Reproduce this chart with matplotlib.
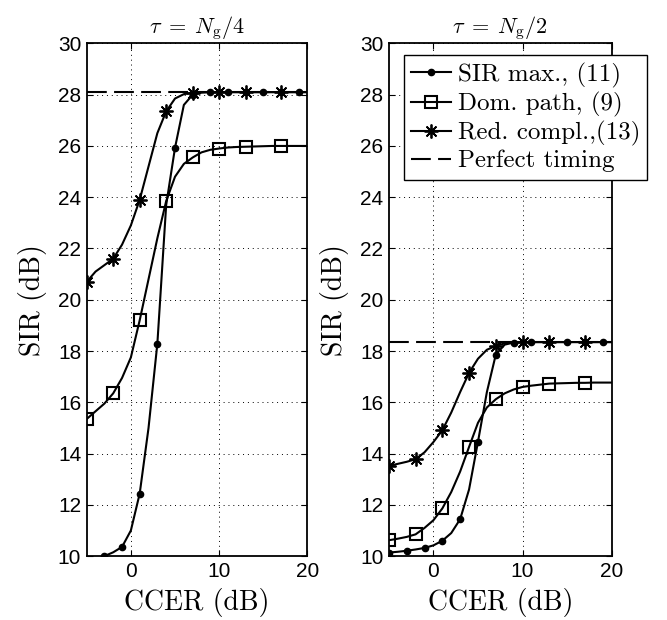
import matplotlib
matplotlib.use('Agg')
import matplotlib.pyplot as plt

plt.rcParams['mathtext.fontset'] = 'cm'
plt.rcParams['font.family'] = ['Liberation Sans', 'DejaVu Sans']

# CCER grid (dB) shared by all curves
ccer = list(range(-5, 21))

# marker positions (dB)
dot_marks = [-5, -3, -1, 1, 3, 5, 7, 9, 11, 13, 15, 17, 19]
sq_marks = [-5, -2, 1, 4, 7, 10, 13, 17]
star_marks = [-5, -2, 1, 4, 7, 10, 13, 17]

# tau = Ng/4
sirmax_a = [9.7, 9.9, 10.0, 10.15, 10.36, 11.0, 12.44, 15.0, 18.29, 23.7, 25.93, 27.6, 28.0,
            28.08, 28.1, 28.1, 28.1, 28.1, 28.1, 28.1, 28.1, 28.1, 28.1, 28.1, 28.1, 28.1]
dompath_a = [15.35, 15.65, 15.95, 16.35, 16.95, 17.75, 19.2, 20.8, 22.4, 23.85, 24.8, 25.3, 25.55,
             25.75, 25.85, 25.9, 25.94, 25.96, 25.97, 25.98, 25.99, 26.0, 26.0, 26.0, 26.0, 26.0]
redcomp_a = [20.7, 21.1, 21.35, 21.6, 22.15, 22.9, 23.9, 25.2, 26.5, 27.35, 27.85, 28.02, 28.08,
             28.1, 28.1, 28.1, 28.1, 28.1, 28.1, 28.1, 28.1, 28.1, 28.1, 28.1, 28.1, 28.1]
perfect_a = 28.1

# tau = Ng/2
sirmax_b = [10.14, 10.17, 10.21, 10.26, 10.32, 10.42, 10.6, 10.9, 11.44, 12.6, 14.46, 16.4, 17.86,
            18.25, 18.33, 18.35, 18.35, 18.35, 18.35, 18.35, 18.35, 18.35, 18.35, 18.35, 18.35, 18.35]
dompath_b = [10.62, 10.68, 10.75, 10.85, 11.1, 11.4, 11.86, 12.5, 13.3, 14.26, 15.2, 15.8, 16.12,
             16.35, 16.5, 16.6, 16.65, 16.69, 16.73, 16.74, 16.75, 16.76, 16.76, 16.77, 16.77, 16.77]
redcomp_b = [13.52, 13.6, 13.68, 13.78, 14.05, 14.45, 14.91, 15.6, 16.4, 17.15, 17.7, 18.05, 18.2,
             18.3, 18.33, 18.35, 18.35, 18.35, 18.35, 18.35, 18.35, 18.35, 18.35, 18.35, 18.35, 18.35]
perfect_b = 18.35

titles = [r'$\tau\;=\;N_{\mathrm{g}}/4$', r'$\tau\;=\;N_{\mathrm{g}}/2$']
labels = ['SIR max., (11)', 'Dom. path, (9)', 'Red. compl.,(13)', 'Perfect timing']
serif = ['cmr10', 'DejaVu Serif']


def idx(marks):
    return [ccer.index(m) for m in marks]


fig = plt.figure(figsize=(6.67, 6.2), dpi=100)
ax1 = fig.add_axes([0.130, 0.103, 0.331, 0.827])
ax2 = fig.add_axes([0.583, 0.103, 0.334, 0.827])

panels = [(ax1, sirmax_a, dompath_a, redcomp_a, perfect_a),
          (ax2, sirmax_b, dompath_b, redcomp_b, perfect_b)]

for i, (ax, sm, dp, rc, pt) in enumerate(panels):
    lw = 1.5
    l1, = ax.plot(ccer, sm, color='k', lw=lw, marker='o', ms=4.5, markevery=idx(dot_marks))
    l2, = ax.plot(ccer, dp, color='k', lw=lw, marker='s', ms=9, mfc='none', mew=1.5,
                  markevery=idx(sq_marks))
    l3, = ax.plot(ccer, rc, color='k', lw=lw, marker=(8, 2, 0), ms=10, mew=1.3,
                  markevery=idx(star_marks))
    l4, = ax.plot([-5, 20], [pt, pt], color='k', lw=lw, dashes=(9.5, 3.5))

    ax.set_xlim(-5, 20)
    ax.set_ylim(10, 30)
    ax.set_xticks([0, 10, 20])
    ax.set_yticks(range(10, 31, 2))
    ax.tick_params(direction='in', top=True, right=True, length=4, width=0.8,
                   labelsize=15, pad=4)
    ax.grid(True, color='k', linestyle=(0, (1, 4)), lw=0.7)
    for s in ax.spines.values():
        s.set_linewidth(1.3)
    ax.set_title(titles[i], fontsize=16, pad=7)
    ax.set_xlabel('CCER (dB)', fontsize=20, family=serif, labelpad=5)
    ax.set_ylabel('SIR (dB)', fontsize=20, family=serif, labelpad=8)

    if i == 1:
        leg = ax.legend([l1, l2, l3, l4], labels, loc='upper left',
                        bbox_to_anchor=(0.067, 0.977), borderaxespad=0,
                        prop={'family': serif, 'size': 18}, handlelength=1.6,
                        handletextpad=0.25, labelspacing=0.16, borderpad=0.3,
                        fancybox=False, framealpha=1, edgecolor='k')
        leg.get_frame().set_linewidth(1.0)

fig.savefig('out.png', dpi=100)
plt.close(fig)
